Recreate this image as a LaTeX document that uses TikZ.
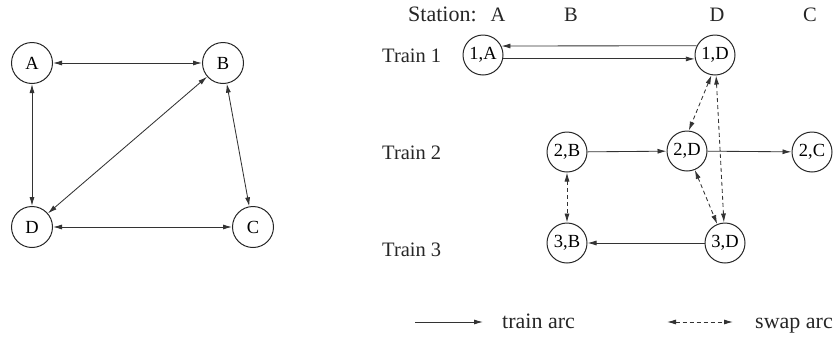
\documentclass[tikz,border=0pt]{standalone}
\usepackage{fontspec}
\setmainfont{Liberation Serif}
\usetikzlibrary{arrows.meta}
\begin{document}
\begin{tikzpicture}[x=1pt,y=-1pt,
  stn/.style={circle,draw=black!85,line width=1pt,minimum size=40pt,inner sep=0pt,
    font=\fontsize{18.5}{20}\selectfont},
  lbl/.style={font=\fontsize{20.5}{22}\selectfont,inner sep=0pt,text=black!85},
  arc/.style={draw=black!80,line width=0.85pt},
  tip/.style={-{Latex[length=9pt,width=5pt]}},
  tips/.style={{Latex[length=9pt,width=5pt]}-{Latex[length=9pt,width=5pt]}},
  swaparc/.style={arc,tips,dash pattern=on 4pt off 3pt}]
\useasboundingbox (0,0) rectangle (837,338);

% network of stations
\node[stn,minimum size=41pt] (A) at (32,63) {A};
\node[stn,minimum size=41pt] (B) at (223,63) {B};
\node[stn,minimum size=41pt] (D) at (32,227) {D};
\node[stn,minimum size=41pt] (C) at (253,227) {C};
\draw[arc,tips] (A) -- (B);
\draw[arc,tips] (A) -- (D);
\draw[arc,tips] (B) -- (D);
\draw[arc,tips] (B) -- (C);
\draw[arc,tips] (D) -- (C);

% station header
\node[lbl,anchor=base west,font=\fontsize{22}{24}\selectfont] (hdr) at (408,21) {Station:};
\node[lbl,anchor=base] (hA) at (498,21) {A};
\node[lbl,anchor=base] (hB) at (571,21) {B};
\node[lbl,anchor=base] (hD) at (717,21) {D};
\node[lbl,anchor=base] (hC) at (810,21) {C};

% train rows
\node[lbl,anchor=base west] (t1) at (382,62) {Train 1};
\node[lbl,anchor=base west] (t2) at (382,159) {Train 2};
\node[lbl,anchor=base west] (t3) at (382,256) {Train 3};

\node[stn] (n1A) at (483,55) {1,A};
\node[stn] (n1D) at (715,55) {1,D};
\node[stn] (n2B) at (567,152) {2,B};
\node[stn] (n2D) at (687,151) {2,D};
\node[stn] (n2C) at (812,152) {2,C};
\node[stn] (n3B) at (567,243) {3,B};
\node[stn] (n3D) at (725,243) {3,D};

% train arcs
\draw[arc,tip] (n1D.153.3) -- (n1A.26.7);
\draw[arc,tip] (n1A.-11.5) -- (n1D.191.5);
\draw[arc,tip] (n2B) -- (n2D);
\draw[arc,tip] (n2D) -- (n2C);
\draw[arc,tip] (n3D) -- (n3B);

% swap arcs
\draw[swaparc] (n1D.260) -- (n2D.85);
\draw[swaparc] (n1D) -- (n3D);
\draw[swaparc] (n2D) -- (n3D);
\draw[swaparc] (n2B) -- (n3B);

% legend
\coordinate (la) at (415,322);
\coordinate (lb) at (483,322);
\draw[arc,tip] (la) -- (lb);
\node[lbl,anchor=base west,font=\fontsize{22}{24}\selectfont] (ltrain) at (502,328) {train arc};
\coordinate (lc) at (667,322);
\coordinate (ld) at (733,322);
\draw[swaparc] (lc) -- (ld);
\node[lbl,anchor=base west,font=\fontsize{22}{24}\selectfont] (lswap) at (755,328) {swap arc};
\end{tikzpicture}
\end{document}
